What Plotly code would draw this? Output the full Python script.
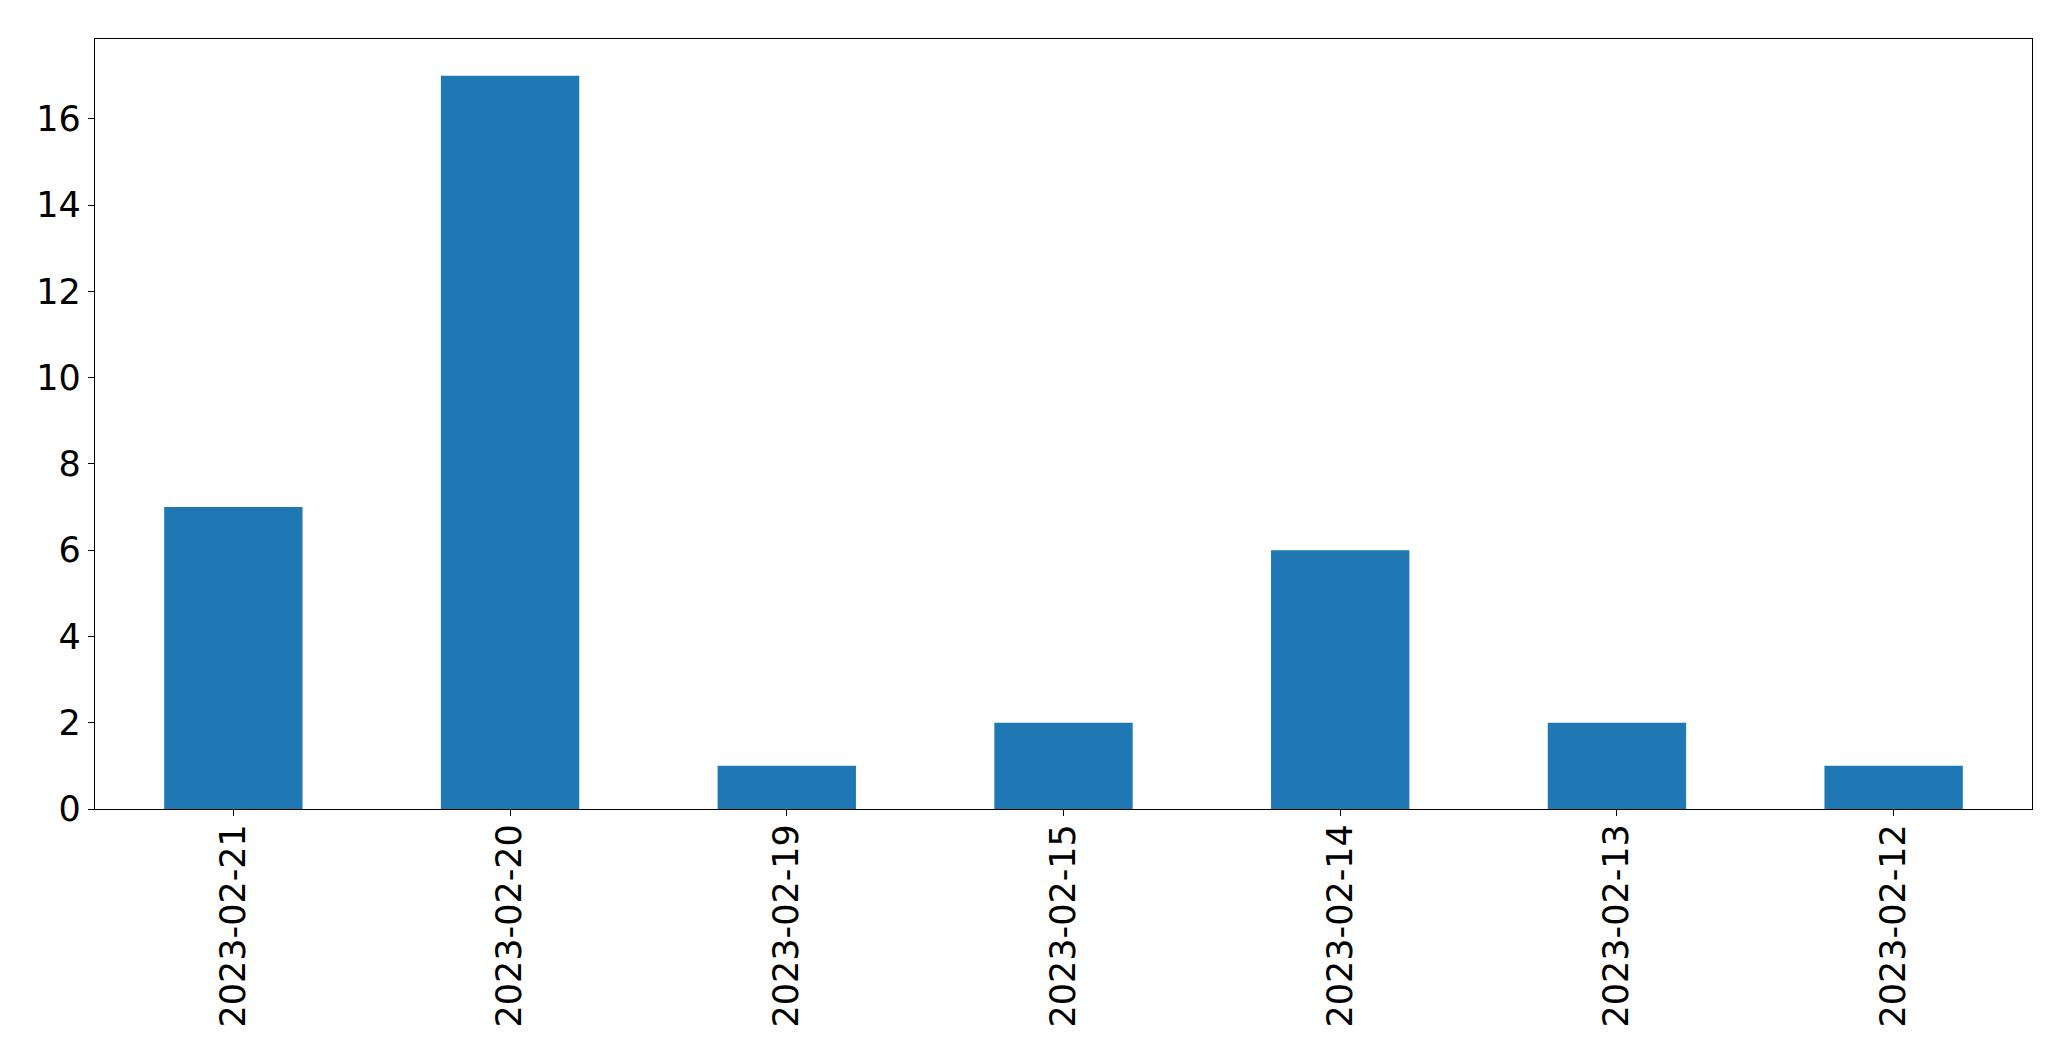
import plotly.graph_objects as go

dates = ["2023-02-21", "2023-02-20", "2023-02-19", "2023-02-15", "2023-02-14", "2023-02-13", "2023-02-12"]
counts = [7, 17, 1, 2, 6, 2, 1]
y_ticks = [0, 2, 4, 6, 8, 10, 12, 14, 16]

fig = go.Figure()
fig.add_trace(go.Bar(
    x=dates, y=counts, width=0.5,
    marker=dict(color="#1f77b4", line=dict(width=0)),
))

axis_common = dict(
    showline=True, linecolor="black", linewidth=1.3, mirror=True,
    ticks="outside", ticklen=6, tickwidth=1.3, tickcolor="black",
    showgrid=False, zeroline=False,
    tickfont=dict(family="DejaVu Sans", size=35, color="black"),
)

fig.update_layout(
    width=2063, height=1053,
    margin=dict(l=87, r=39, t=31, b=252),
    plot_bgcolor="white", paper_bgcolor="white",
    showlegend=False,
    xaxis=dict(type="category", range=[-0.5, 6.5], tickangle=-90,
               ticklabelstandoff=-6, **axis_common),
    yaxis=dict(range=[0, 17.85], tickvals=y_ticks, **axis_common),
)

fig.write_html("out.html")
